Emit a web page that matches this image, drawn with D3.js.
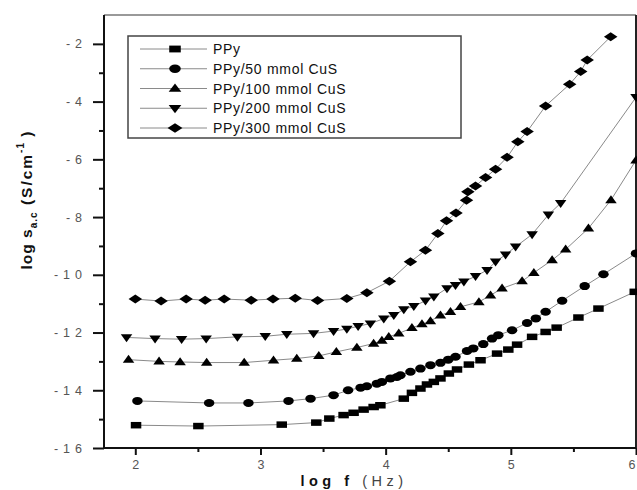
<!DOCTYPE html>
<html><head><meta charset="utf-8">
<script src="https://cdn.jsdelivr.net/npm/d3@7"></script>
<style>
body{margin:0;background:#fff;}
svg{display:block;font-family:Arial,"Liberation Sans",sans-serif;}
</style></head>
<body><svg id="chart" width="637" height="490"></svg>
<script>
// ---- data ----
const seriesNames = ["PPy","PPy/50 mmol CuS","PPy/100 mmol CuS","PPy/200 mmol CuS","PPy/300 mmol CuS"];
const xTicks = [2,3,4,5,6];
const yTicks = [-16,-14,-12,-10,-8,-6,-4,-2];

const ppyX = [2.006,2.504,3.17,3.446,3.55,3.664,3.744,3.824,3.904,3.958,4.145,4.21,4.278,4.33,4.385,4.438,4.505,4.57,4.665,4.758,4.89,4.98,5.05,5.17,5.278,5.366,5.54,5.70,5.99];
const ppyY = [-15.21,-15.24,-15.19,-15.12,-14.98,-14.86,-14.78,-14.67,-14.58,-14.52,-14.29,-14.09,-13.94,-13.80,-13.71,-13.59,-13.42,-13.28,-13.11,-12.96,-12.73,-12.59,-12.42,-12.15,-11.98,-11.83,-11.48,-11.17,-10.59];

const cus50X = [2.017,2.59,2.904,3.224,3.40,3.584,3.70,3.80,3.85,3.93,3.97,4.038,4.09,4.118,4.198,4.278,4.358,4.438,4.50,4.558,4.65,4.70,4.78,4.85,4.90,5.01,5.13,5.20,5.278,5.41,5.59,5.74,6.0];
const cus50Y = [-14.37,-14.44,-14.44,-14.37,-14.29,-14.17,-14.0,-13.91,-13.86,-13.77,-13.71,-13.59,-13.54,-13.48,-13.36,-13.25,-13.13,-13.05,-12.94,-12.84,-12.64,-12.55,-12.40,-12.21,-12.09,-11.92,-11.67,-11.51,-11.28,-10.90,-10.39,-9.98,-9.26];

const cus100X = [1.946,2.19,2.358,2.57,2.87,3.104,3.29,3.466,3.606,3.77,3.904,3.97,4.025,4.105,4.21,4.29,4.358,4.438,4.518,4.598,4.745,4.838,4.93,5.09,5.184,5.33,5.438,5.62,5.80,6.0];
const cus100Y = [-12.94,-13.0,-13.02,-13.04,-13.04,-12.96,-12.90,-12.81,-12.67,-12.52,-12.38,-12.28,-12.15,-12.03,-11.84,-11.71,-11.60,-11.40,-11.28,-11.11,-10.94,-10.71,-10.47,-10.22,-9.93,-9.49,-9.12,-8.39,-7.41,-6.03];

const cus200X = [1.93,2.158,2.37,2.566,2.816,3.038,3.21,3.424,3.584,3.69,3.78,3.878,3.985,4.065,4.145,4.225,4.318,4.385,4.49,4.558,4.625,4.718,4.81,4.878,4.958,5.038,5.17,5.30,5.398,6.0];
const cus200Y = [-12.17,-12.21,-12.23,-12.21,-12.15,-12.13,-12.06,-12.03,-11.95,-11.88,-11.78,-11.69,-11.52,-11.40,-11.20,-11.09,-10.90,-10.76,-10.47,-10.36,-10.24,-10.05,-9.84,-9.55,-9.30,-9.03,-8.60,-7.92,-7.52,-3.85];

const cus300X = [2.0,2.206,2.406,2.558,2.71,2.926,3.10,3.278,3.456,3.69,3.85,4.03,4.198,4.318,4.417,4.486,4.562,4.646,4.657,4.718,4.798,4.878,4.97,5.056,5.13,5.278,5.47,5.558,5.61,5.798];
const cus300Y = [-10.84,-10.91,-10.84,-10.88,-10.84,-10.88,-10.84,-10.81,-10.89,-10.82,-10.62,-10.22,-9.55,-9.15,-8.57,-8.13,-7.86,-7.42,-7.12,-6.92,-6.63,-6.34,-5.93,-5.39,-5.04,-4.15,-3.40,-2.96,-2.56,-1.75];

const series = [
  {name:seriesNames[0], shape:"square",  xs:ppyX,   ys:ppyY},
  {name:seriesNames[1], shape:"circle",  xs:cus50X, ys:cus50Y},
  {name:seriesNames[2], shape:"up",      xs:cus100X,ys:cus100Y},
  {name:seriesNames[3], shape:"down",    xs:cus200X,ys:cus200Y},
  {name:seriesNames[4], shape:"diamond", xs:cus300X,ys:cus300Y}
];

// ---- layout ----
const svg = d3.select("#chart");
const L = 104, R = 636, T = 15, B = 448;
const x = d3.scaleLinear().domain([1.75, 6]).range([L, R]);
const y = d3.scaleLinear().domain([-16, -1]).range([B, T]);

const markerPath = {
  square:  (w,h)=>`M${-w/2},${-h/2}H${w/2}V${h/2}H${-w/2}Z`,
  circle:  (w,h)=>`M${-w/2},0A${w/2},${h/2} 0 1,0 ${w/2},0A${w/2},${h/2} 0 1,0 ${-w/2},0Z`,
  up:      (w,h)=>`M0,${-h*0.6}L${w/2},${h*0.4}L${-w/2},${h*0.4}Z`,
  down:    (w,h)=>`M0,${h*0.6}L${w/2},${-h*0.4}L${-w/2},${-h*0.4}Z`,
  diamond: (w,h)=>`M0,${-h/2}L${w/2},0L0,${h/2}L${-w/2},0Z`
};
const markerSize = {square:[10.5,6.5], circle:[10.5,8], up:[11.5,8], down:[11.5,8], diamond:[13.5,9]};

// frame (top and right)
svg.append("line").attr("x1",L).attr("x2",R).attr("y1",T).attr("y2",T).attr("stroke","#777").attr("stroke-width",1.5);
svg.append("line").attr("x1",R).attr("x2",R).attr("y1",T).attr("y2",B).attr("stroke","#222").attr("stroke-width",2);

// x axis
const xAxis = d3.axisBottom(x).tickValues(xTicks).tickSize(7).tickPadding(5).tickFormat(d3.format("d"));
const gx = svg.append("g").attr("transform",`translate(0,${B})`).call(xAxis);
gx.select(".domain").attr("stroke","#111").attr("stroke-width",2).attr("d",`M${L},0H${R}`);
gx.selectAll(".tick line").attr("stroke","#111").attr("stroke-width",2);
gx.selectAll(".tick text").attr("fill","#555").attr("font-size",12.5).attr("font-family","Arial, Liberation Sans, sans-serif")
  .filter(d => d === 6).attr("text-anchor","end").attr("dx",-1);
const xMinor = d3.axisBottom(x).tickValues([2.5,3.5,4.5,5.5]).tickSize(4).tickFormat("");
const gxm = svg.append("g").attr("transform",`translate(0,${B})`).call(xMinor);
gxm.select(".domain").remove();
gxm.selectAll(".tick line").attr("stroke","#111").attr("stroke-width",2);

// y axis
const yAxis = d3.axisLeft(y).tickValues(yTicks).tickSize(11).tickPadding(6).tickFormat(d => (d<0?"-":"")+Math.abs(d));
const gy = svg.append("g").attr("transform",`translate(${L},0)`).call(yAxis);
gy.select(".domain").attr("stroke","#111").attr("stroke-width",2).attr("d",`M0,${T}V${B}`);
gy.selectAll(".tick line").attr("stroke","#111").attr("stroke-width",2);
gy.selectAll(".tick text").attr("fill","#555").attr("font-size",12.5).attr("letter-spacing","5px").attr("font-family","Arial, Liberation Sans, sans-serif");
const yMinor = d3.axisLeft(y).tickValues([-15,-13,-11,-9,-7,-5,-3]).tickSize(5).tickFormat("");
const gym = svg.append("g").attr("transform",`translate(${L},0)`).call(yMinor);
gym.select(".domain").remove();
gym.selectAll(".tick line").attr("stroke","#111").attr("stroke-width",2);

// series
const line = d3.line().x(d=>x(d[0])).y(d=>y(d[1]));
series.forEach(s => {
  const pts = s.xs.map((v,i)=>[v, s.ys[i]]);
  svg.append("path").datum(pts).attr("d",line).attr("fill","none").attr("stroke","#8a8a8a").attr("stroke-width",1);
  const [w,h] = markerSize[s.shape];
  svg.append("g").selectAll("path").data(pts).join("path")
    .attr("transform",d=>`translate(${x(d[0])},${y(d[1])})`)
    .attr("d",markerPath[s.shape](w,h)).attr("fill","#000");
});

// legend
const lg = svg.append("g");
lg.append("rect").attr("x",128).attr("y",36).attr("width",333).attr("height",102).attr("fill","#fff").attr("stroke","#444").attr("stroke-width",1.5);
const rowY = d3.scalePoint().domain(seriesNames).range([49,128]);
series.forEach(s => {
  const yy = rowY(s.name);
  lg.append("line").attr("x1",140).attr("x2",207).attr("y1",yy).attr("y2",yy).attr("stroke","#8a8a8a").attr("stroke-width",1);
  const [w,h] = markerSize[s.shape];
  lg.append("path").attr("transform",`translate(175,${yy})`).attr("d",markerPath[s.shape](w*1.1,h*1.05)).attr("fill","#000");
  lg.append("text").attr("x",213).attr("y",yy+5).attr("font-size",14).attr("letter-spacing","0.7px").attr("fill","#111").text(s.name);
});

// x title
const xt = svg.append("text").attr("x",354).attr("y",486).attr("text-anchor","middle").attr("font-size",14.5).attr("letter-spacing","4.5px").attr("fill","#111");
xt.append("tspan").attr("font-weight","bold").text("log f ");
xt.append("tspan").attr("fill","#444").text("(Hz)");

// y title
const yt = svg.append("text").attr("transform","translate(32,200) rotate(-90)").attr("text-anchor","middle").attr("font-size",15.5).attr("font-weight","bold").attr("fill","#111").attr("letter-spacing","1px");
yt.append("tspan").text("log s");
yt.append("tspan").attr("font-size",10).attr("dy",5).text("a.c");
yt.append("tspan").attr("dy",-5).attr("letter-spacing","2px").text("  (S/cm");
yt.append("tspan").attr("font-size",10).attr("dy",-8).text("-1");
yt.append("tspan").attr("dy",8).text(" )");
</script></body></html>
